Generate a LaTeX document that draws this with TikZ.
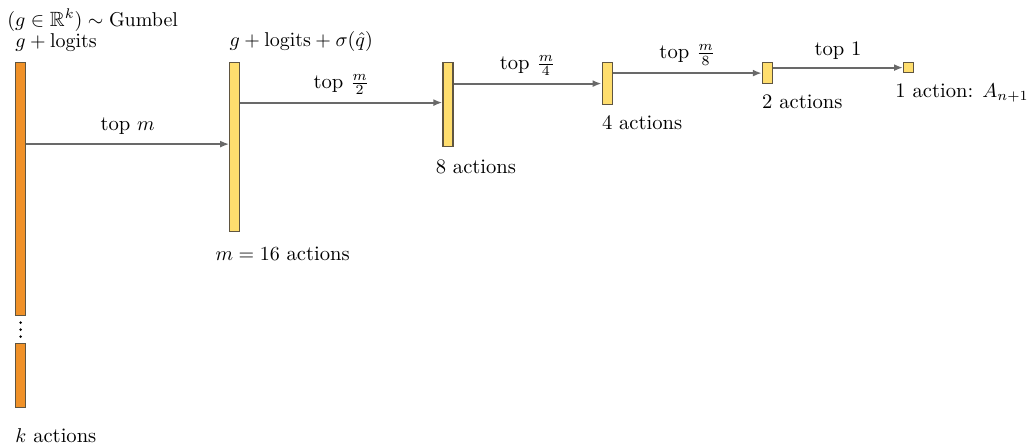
\documentclass[tikz,border=0pt]{standalone}
\usepackage{amssymb}
\usepackage{xcolor}
\usepackage{tikz}
\usetikzlibrary{positioning,arrows.meta,calc}

\definecolor{barorange}{RGB}{240,145,40}
\definecolor{baryellow}{RGB}{255,222,110}
\definecolor{barline}{RGB}{95,85,65}
\definecolor{arrgray}{RGB}{105,105,105}

\begin{document}
\begin{tikzpicture}[
        x=0.5pt, y=-0.5pt,
        font=\fontsize{10.3}{12}\selectfont,
        bar/.style={draw=barline, line width=0.6pt, minimum width=5pt, inner sep=0pt},
        kbar/.style={bar, fill=barorange},
        ybar/.style={bar, fill=baryellow},
        lbl/.style={inner sep=1pt},
        arr/.style={draw=arrgray, line width=1pt, -{Latex[length=4.5pt,width=3.5pt]}},
    ]
        \useasboundingbox (0,0) rectangle (1030,446);

        % bars
        \node[kbar, minimum height=126.5pt, anchor=north west] (barK) at (15,62) {};
        \node[kbar, minimum height=32pt, anchor=north west]    (barKlow) at (15,343) {};
        \node[ybar, minimum height=84.5pt, right=101.5pt of barK.north east, anchor=north west]  (bar16) {};
        \node[ybar, minimum height=42pt,   right=101pt of bar16.north east, anchor=north west]   (bar8) {};
        \node[ybar, minimum height=21pt,   right=74pt of bar8.north east, anchor=north west]     (bar4) {};
        \node[ybar, minimum height=10.5pt, right=74.5pt of bar4.north east, anchor=north west]   (bar2) {};
        \node[ybar, minimum height=5pt,    right=65pt of bar2.north east, anchor=north west]     (bar1) {};

        \coordinate (dots) at ($(barK.south)!0.5!(barKlow.north)$);
        \foreach \d in {-7,0,7}
            \fill ([yshift=\d*0.5pt]dots) circle (0.7pt);

        % labels
        \node[lbl, anchor=south west] (logitsK) at ([xshift=-1pt,yshift=4pt]barK.north west) {$g+\mathrm{logits}$};
        \node[lbl, anchor=south west] (gumbel) at ([xshift=-4pt,yshift=-1pt]logitsK.north west) {$(g\in\mathbb{R}^k)\sim\mathrm{Gumbel}$};
        \node[lbl, anchor=south west] (logits16) at ([xshift=-1pt,yshift=4pt]bar16.north west) {$g+\mathrm{logits}+\sigma(\hat{q})$};

        \node[lbl, below=9pt of barKlow.south west, anchor=north west, xshift=-1pt] (labK) {$k$ actions};
        \node[lbl, below=6pt of bar16.south west, anchor=north west, xshift=-8pt] (lab16) {$m=16$ actions};
        \node[lbl, below=5pt of bar8.south west, anchor=north west, xshift=-4.5pt] (lab8) {8 actions};
        \node[lbl, below=4pt of bar4.south west, anchor=north west, xshift=-1pt] (lab4) {4 actions};
        \node[lbl, below=4pt of bar2.south west, anchor=north west, xshift=-1pt] (lab2) {2 actions};
        \node[lbl, below=4pt of bar1.south west, anchor=north west, xshift=-5pt] (lab1) {1 action: $A_{n+1}$};

        % selection steps
        \draw[arr] ([yshift=1.5pt]barK.east |- bar16) -- ([yshift=1.5pt]bar16.west) node[midway, above, yshift=1pt] {top $m$};
        \draw[arr] ([yshift=1pt]bar16.east |- bar8) -- ([yshift=1pt]bar8.west) node[midway, above] {top $\frac{m}{2}$};
        \draw[arr] (bar8.east |- bar4) -- (bar4.west) node[midway, above] {top $\frac{m}{4}$};
        \draw[arr] (bar4.east |- bar2) -- (bar2.west) node[midway, above] {top $\frac{m}{8}$};
        \draw[arr] (bar2.east |- bar1) -- (bar1.west) node[midway, above] {top 1};
    \end{tikzpicture}
\end{document}
